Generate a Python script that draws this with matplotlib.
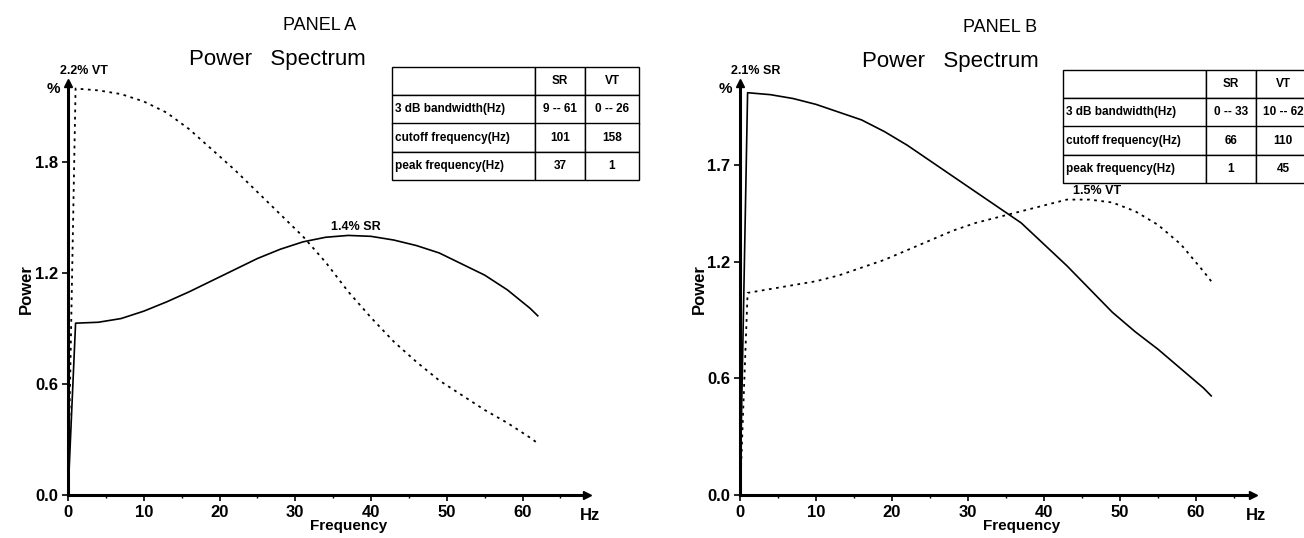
import matplotlib
matplotlib.use('Agg')
import matplotlib.pyplot as plt
from matplotlib.ticker import MultipleLocator

plt.rcParams['font.family'] = ['Liberation Sans', 'DejaVu Sans']
plt.rcParams['font.weight'] = 'bold'

freq = [0, 1, 4, 7, 10, 13, 16, 19, 22, 25, 28, 31, 34, 37, 40, 43, 46, 49, 52, 55, 58, 61, 62]

# panel A, power in %
sr_a = [0, 0.93, 0.935, 0.955, 0.995, 1.045, 1.10, 1.16, 1.22, 1.28, 1.33, 1.37, 1.395,
        1.405, 1.40, 1.38, 1.35, 1.31, 1.25, 1.19, 1.11, 1.01, 0.97]
vt_a = [0, 2.20, 2.19, 2.17, 2.13, 2.07, 1.98, 1.87, 1.76, 1.64, 1.52, 1.40, 1.26,
        1.10, 0.96, 0.83, 0.72, 0.62, 0.54, 0.46, 0.39, 0.31, 0.28]

# panel B
sr_b = [0, 2.07, 2.06, 2.04, 2.01, 1.97, 1.93, 1.87, 1.80, 1.72, 1.64, 1.56, 1.48,
        1.40, 1.29, 1.18, 1.06, 0.94, 0.84, 0.75, 0.65, 0.55, 0.51]
vt_b = [0, 1.04, 1.06, 1.08, 1.10, 1.13, 1.17, 1.21, 1.26, 1.31, 1.36, 1.40, 1.43,
        1.46, 1.49, 1.52, 1.52, 1.505, 1.46, 1.39, 1.29, 1.15, 1.10]

xticks = [0, 10, 20, 30, 40, 50, 60]
yticks_a = [0, 0.6, 1.2, 1.8]
yticks_b = [0, 0.6, 1.2, 1.7]

row_labels = ['3 dB bandwidth(Hz)', 'cutoff frequency(Hz)', 'peak frequency(Hz)']
table_a = [['9 -- 61', '0 -- 26'], ['101', '158'], ['37', '1']]
table_b = [['0 -- 33', '10 -- 62'], ['66', '110'], ['1', '45']]

W, H = 1304, 538
fig = plt.figure(figsize=(W / 100, H / 100), dpi=100)


def px(x0, y0, x1, y1):
    # pixel box (top-left origin) -> figure fraction rect
    return [x0 / W, (H - y1) / H, (x1 - x0) / W, (y1 - y0) / H]


def panel(rect, xmax, ymax, yticks, sr, vt, peak_lbl, peak_xy, top_lbl):
    ax = fig.add_axes(rect)
    ax.plot(freq, sr, color='black', lw=1.2)
    ax.plot(freq, vt, color='black', lw=1.3, linestyle=(0, (1.5, 2.5)))
    ax.set_xlim(0, xmax)
    ax.set_ylim(0, ymax)
    ax.set_xticks(xticks)
    ax.xaxis.set_minor_locator(MultipleLocator(5))
    ax.set_yticks(yticks)
    ax.set_yticklabels(['%.1f' % v for v in yticks])
    ax.tick_params(which='major', length=4, width=1.2, labelsize=12, pad=3)
    ax.tick_params(which='minor', length=2, width=1)
    for s in ['top', 'right']:
        ax.spines[s].set_visible(False)
    for s in ['left', 'bottom']:
        ax.spines[s].set_linewidth(2.2)
    ax.plot(0, 1, marker='^', color='black', ms=6, transform=ax.transAxes, clip_on=False)
    ax.plot(1, 0, marker='>', color='black', ms=6, transform=ax.transAxes, clip_on=False)
    ax.patch.set_alpha(0)
    ax.text(-0.016, 0.985, '%', transform=ax.transAxes, ha='right', va='center', fontsize=11)
    ax.text(0.03, 1.015, top_lbl, transform=ax.transAxes, ha='center', va='bottom', fontsize=9)
    ax.text(peak_xy[0], peak_xy[1], peak_lbl, ha='center', va='bottom', fontsize=9)
    ax.text(1.005, -0.05, 'Hz', transform=ax.transAxes, ha='center', va='center', fontsize=12)
    ax.text(37 / xmax, -0.075, 'Frequency', transform=ax.transAxes, ha='center', va='center', fontsize=11)
    ax.text(-0.08, 0.5, 'Power', transform=ax.transAxes, rotation=90, ha='center', va='center', fontsize=12)
    return ax


def table(box, vals):
    tax = fig.add_axes([0, 0, 1, 1])
    tax.axis('off')
    cells = [['', 'SR', 'VT']] + [[lbl] + v for lbl, v in zip(row_labels, vals)]
    tb = tax.table(cellText=cells, cellLoc='center', bbox=px(*box),
                   colWidths=[143, 50, 54])
    tb.auto_set_font_size(False)
    tb.set_fontsize(8.5)
    for (r, c), cell in tb.get_celld().items():
        cell.set_linewidth(1.0)
        cell.get_text().set_fontweight('bold')
        if c == 0:
            cell.get_text().set_ha('left')
            cell.PAD = 0.02


panel(px(68, 83, 587, 495), 68.5, 2.23, yticks_a, sr_a, vt_a, '1.4% SR', (38, 1.42), '2.2% VT')
panel(px(740, 83, 1253, 495), 67.5, 2.12, yticks_b, sr_b, vt_b, '1.5% VT', (47, 1.535), '2.1% SR')

fig.text(320 / W, 1 - 26 / H, 'PANEL A', ha='center', va='center', fontsize=13, fontweight='normal')
fig.text(277 / W, 1 - 60 / H, 'Power   Spectrum', ha='center', va='center', fontsize=16, fontweight='normal')
fig.text(1000 / W, 1 - 28 / H, 'PANEL B', ha='center', va='center', fontsize=13, fontweight='normal')
fig.text(950 / W, 1 - 62 / H, 'Power   Spectrum', ha='center', va='center', fontsize=16, fontweight='normal')

table((392, 67, 639, 180), table_a)
table((1063, 70, 1310, 183), table_b)

fig.savefig('out.png', dpi=100)
